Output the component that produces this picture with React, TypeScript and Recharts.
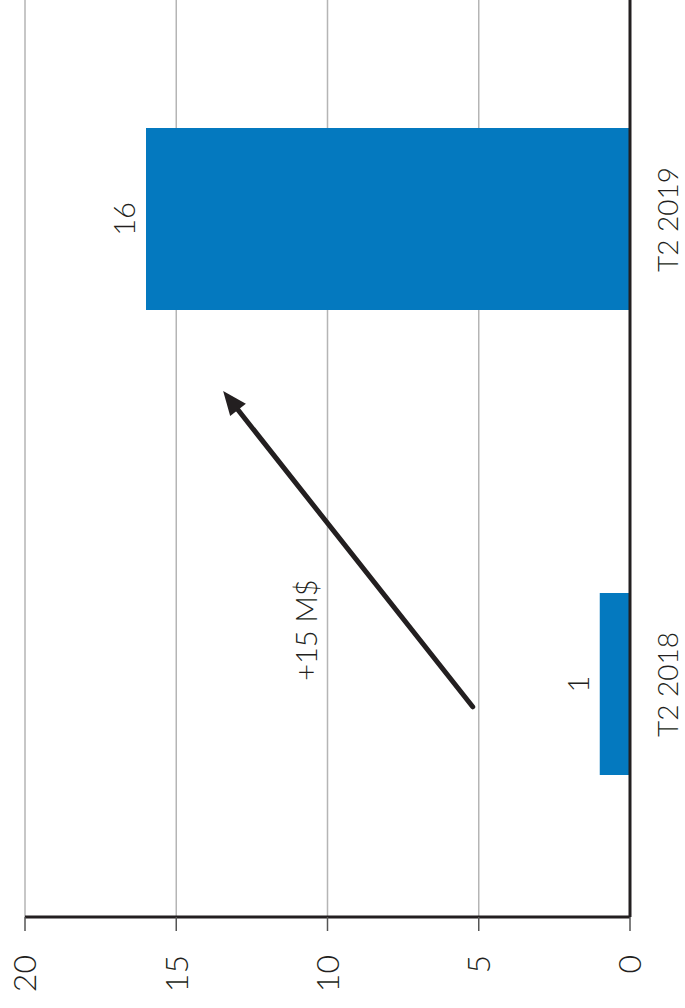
import { Bar, BarChart, CartesianGrid, LabelList, ReferenceDot, ReferenceLine, XAxis, YAxis } from "recharts";

const categories = ["T2 2018", "T2 2019"];
const values = [1, 16];
const valueTicks = [0, 5, 10, 15, 20];

// annotation arrow, in (position along the category axis 0..2, value) space
const arrowStart = [0.452, 5.2];
const arrowEnd = [1.131, 13.45];
const changeLabel = "+15 M$";
const changeLabelAt = [0.617, 10.7];

const INK = "#231f20";
const FONT = "'Lato', 'Open Sans', sans-serif";

const data = categories.map((name, i) => ({ name, value: values[i] }));

function Arrow(props: any) {
  const { x1, y1, x2, y2 } = props;
  const len = Math.hypot(x2 - x1, y2 - y1) || 1;
  const dx = (x2 - x1) / len;
  const dy = (y2 - y1) / len;
  const head = 24;
  const half = 10;
  const bx = x2 - dx * head;
  const by = y2 - dy * head;
  return (
    <g>
      <line
        x1={x1}
        y1={y1}
        x2={bx + dx * 3}
        y2={by + dy * 3}
        stroke={INK}
        strokeWidth={5}
        strokeLinecap="round"
      />
      <polygon
        points={`${x2},${y2} ${bx - dy * half},${by + dx * half} ${bx + dy * half},${by - dx * half}`}
        fill={INK}
      />
    </g>
  );
}

export default function App() {
  return (
    <div
      style={{
        position: "fixed",
        top: 0,
        left: 0,
        width: 685,
        height: 1008,
        overflow: "hidden",
        background: "#fff",
        fontFamily: FONT,
      }}
    >
      <div
        style={{
          position: "absolute",
          top: 0,
          left: 0,
          width: 1021,
          height: 685,
          transform: "translateY(1008px) rotate(-90deg)",
          transformOrigin: "0 0",
        }}
      >
        <BarChart width={1021} height={685} data={data} margin={{ top: 25, right: 0, bottom: 0, left: 0 }}>
          <CartesianGrid vertical={false} stroke="#b5b5b5" strokeWidth={1.5} />
          <XAxis
            dataKey="name"
            height={55}
            axisLine={{ stroke: INK, strokeWidth: 3 }}
            tickLine={false}
            tickSize={0}
            tickMargin={28}
            tick={{ fill: INK, fontSize: 28, fontWeight: 300 }}
          />
          <XAxis xAxisId="ann" dataKey="value" type="number" domain={[0, 2]} allowDataOverflow hide />
          <YAxis
            width={91}
            domain={[0, 20]}
            ticks={valueTicks}
            interval={0}
            axisLine={{ stroke: INK, strokeWidth: 3 }}
            tickLine={{ stroke: "#555", strokeWidth: 1.5 }}
            tickSize={14}
            tickMargin={24}
            tick={{ fill: INK, fontSize: 32, fontWeight: 300 }}
          />
          <Bar dataKey="value" fill="#0479bf" barSize={182} isAnimationActive={false}>
            <LabelList dataKey="value" position="top" offset={11} fill={INK} fontSize={29} fontWeight={300} />
          </Bar>
          <ReferenceLine
            xAxisId="ann"
            ifOverflow="visible"
            segment={[
              { x: arrowStart[0], y: arrowStart[1] },
              { x: arrowEnd[0], y: arrowEnd[1] },
            ]}
            shape={Arrow}
          />
          <ReferenceDot
            xAxisId="ann"
            ifOverflow="visible"
            x={changeLabelAt[0]}
            y={changeLabelAt[1]}
            r={0}
            fill="none"
            stroke="none"
            label={{ value: changeLabel, position: "center", fill: INK, fontSize: 29, fontWeight: 300 }}
          />
        </BarChart>
      </div>
    </div>
  );
}
